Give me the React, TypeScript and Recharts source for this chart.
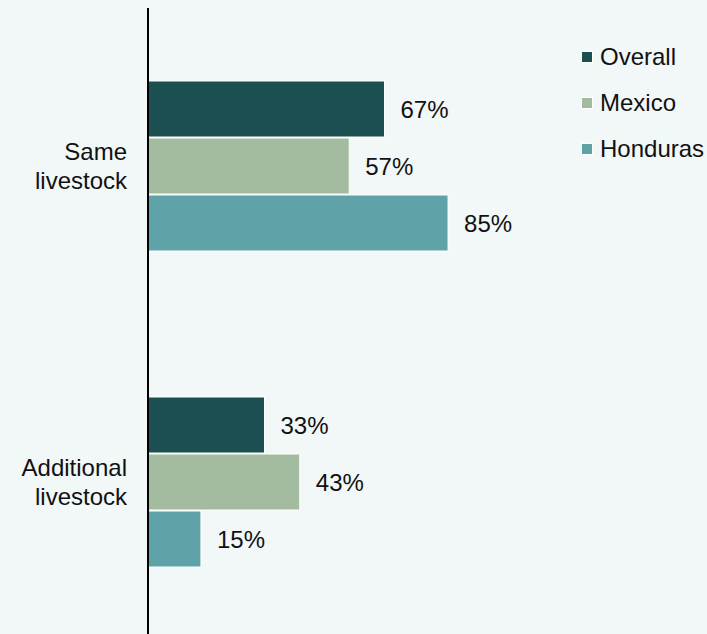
import React from "react";
import { BarChart, Bar, XAxis, YAxis, LabelList, Legend } from "recharts";

const categories = ["Same livestock", "Additional livestock"];
const overall = [67, 33];
const mexico = [57, 43];
const honduras = [85, 15];
const seriesNames = ["Overall", "Mexico", "Honduras"];
const colors = ["#1b4f52", "#a3bb9e", "#5fa3a8"];

const data = categories.map((c, i) => ({
  name: c,
  Overall: overall[i],
  Mexico: mexico[i],
  Honduras: honduras[i],
}));

if (typeof document !== "undefined") {
  document.body.style.margin = "0";
}

const FONT = "'Liberation Sans', Arial, sans-serif";

const Tick = (props: any) => {
  const { x, y, payload } = props;
  const words = String(payload.value).split(" ");
  return (
    <text x={x} y={y} textAnchor="end" fontFamily={FONT} fontSize={24} fill="#111">
      <tspan x={x} dy={-14.5 + 8.5}>{words[0]}</tspan>
      <tspan x={x} dy={29}>{words.slice(1).join(" ")}</tspan>
    </text>
  );
};

const LegendContent = () => (
  <div style={{ fontFamily: FONT, fontSize: 24, color: "#111", lineHeight: "28px" }}>
    {seriesNames.map((n, i) => (
      <div key={n} style={{ display: "flex", alignItems: "center", height: 46 }}>
        <span
          style={{
            display: "inline-block",
            width: 10,
            height: 10,
            background: colors[i],
            border: "1px solid #fff",
            marginRight: 7,
          }}
        />
        <span>{n}</span>
      </div>
    ))}
  </div>
);

export default function App() {
  return (
    <div style={{ width: 707, height: 634, overflow: "hidden", background: "#f2f7f7", position: "relative" }}>
      <BarChart
        width={707}
        height={640}
        data={data}
        layout="vertical"
        margin={{ top: 8, right: 206, bottom: 0, left: 0 }}
        barGap={1}
        barSize={56}
      >
        <XAxis type="number" domain={[0, 100]} hide />
        <YAxis
          type="category"
          dataKey="name"
          width={148}
          axisLine={{ stroke: "#000", strokeWidth: 2 }}
          tickLine={false}
          tick={<Tick />}
          tickMargin={15}
        />
        <Legend
          layout="vertical"
          verticalAlign="middle"
          align="center"
          wrapperStyle={{ top: 34, left: 581, width: 126 }}
          content={<LegendContent />}
        />
        {seriesNames.map((n, i) => (
          <Bar key={n} dataKey={n} fill={colors[i]} stroke="#fff" strokeWidth={1} isAnimationActive={false}>
            <LabelList
              dataKey={n}
              position="right"
              offset={16}
              formatter={(v: any) => `${v}%`}
              style={{ fontFamily: FONT, fontSize: 24, fill: "#111" }}
            />
          </Bar>
        ))}
      </BarChart>
    </div>
  );
}
